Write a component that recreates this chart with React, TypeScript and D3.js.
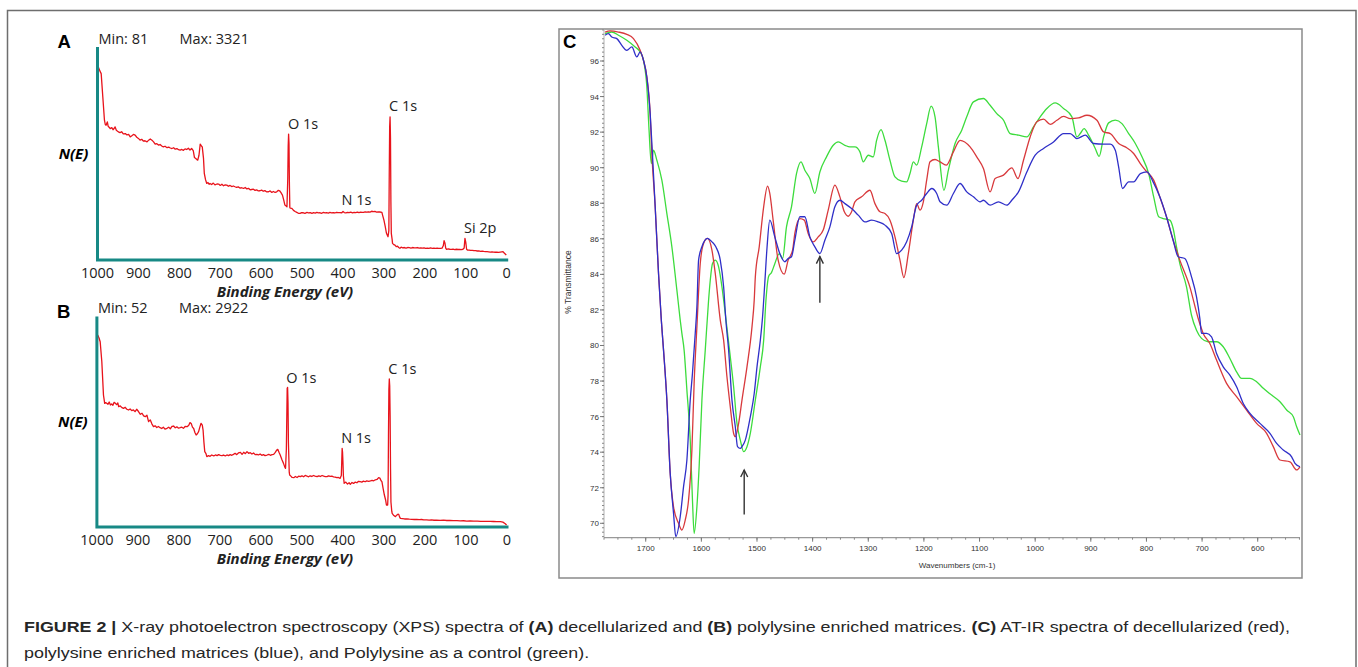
import React, { useEffect, useRef } from 'react';
import * as d3 from 'd3';

const W = 1358;
const H = 667;

// XPS survey, decellularized matrix: [binding energy (eV), counts]
const xpsA: [number, number][] = [
  [998, 3321], [994, 3250], [991, 3207], [987, 2805], [983, 2404], [981, 2330], [979, 2318], [976, 2375], [974, 2300],
  [971, 2280], [969, 2260], [965, 2275], [962, 2240], [959, 2265], [957, 2289], [954, 2230], [951, 2215], [949, 2203],
  [945, 2190], [941, 2205], [937, 2170], [932, 2174], [928, 2150], [924, 2160], [920, 2117], [916, 2135], [912, 2160],
  [908, 2146], [904, 2110], [900, 2090], [896, 2060], [892, 2075], [888, 2045], [884, 2050], [879, 2031], [875, 2060],
  [871, 2080], [867, 2060], [863, 2030], [859, 1991], [855, 2000], [851, 1975], [847, 1985], [843, 1960], [839, 1945],
  [835, 1955], [830, 1930], [826, 1940], [822, 1925], [818, 1916], [814, 1930], [810, 1905], [806, 1915], [802, 1895],
  [798, 1888], [794, 1900], [790, 1885], [786, 1910], [782, 1899], [778, 1920], [774, 1890], [770, 1916], [766, 1880],
  [763, 1760], [760, 1744], [757, 1725], [755, 1715], [752, 1800], [749, 1991], [746, 1960], [744, 1945], [741, 1750],
  [739, 1486], [736, 1380], [733, 1314], [730, 1330], [727, 1300], [725, 1314], [721, 1295], [717, 1320], [713, 1290],
  [708, 1305], [704, 1303], [700, 1280], [696, 1300], [692, 1275], [688, 1290], [684, 1285], [680, 1265], [676, 1280],
  [672, 1260], [668, 1270], [664, 1257], [660, 1245], [656, 1255], [652, 1235], [648, 1240], [643, 1228], [639, 1245],
  [635, 1220], [631, 1230], [627, 1205], [623, 1210], [619, 1215], [615, 1195], [611, 1205], [607, 1185], [603, 1188],
  [599, 1200], [595, 1180], [591, 1190], [587, 1170], [582, 1171], [578, 1185], [574, 1160], [570, 1175], [566, 1159],
  [562, 1170], [558, 1195], [555, 1188], [552, 1160], [548, 1113], [545, 1030], [542, 941], [539, 925], [537, 913],
  [535, 1400], [534, 1950], [533, 2165], [532, 2000], [531, 1300], [530, 900], [529, 890], [525, 884], [521, 850],
  [517, 830], [513, 815], [509, 800], [505, 798], [501, 812], [497, 809], [493, 800], [488, 815], [484, 805], [480, 812],
  [476, 800], [472, 810], [468, 803], [464, 815], [460, 806], [456, 809], [452, 800], [448, 815], [444, 808], [440, 810],
  [436, 803], [432, 815], [428, 808], [424, 812], [420, 805], [416, 815], [412, 810], [408, 812], [403, 809], [400, 830],
  [397, 812], [393, 806], [389, 815], [385, 810], [381, 818], [377, 808], [373, 815], [369, 812], [365, 820], [361, 810],
  [357, 818], [353, 815], [350, 815], [346, 825], [342, 818], [338, 826], [334, 820], [330, 835], [326, 828], [322, 832],
  [318, 820], [314, 825], [310, 822], [305, 815], [303, 760], [300, 683], [297, 580], [294, 460], [292, 425], [290, 396],
  [288, 500], [287, 1500], [286, 2300], [285, 2461], [284, 2100], [283, 1000], [282, 454], [280, 350], [279, 282],
  [276, 260], [273, 250], [270, 224], [267, 235], [264, 210], [261, 196], [258, 215], [254, 205], [250, 210], [246, 200],
  [242, 210], [238, 207], [234, 200], [230, 210], [226, 205], [222, 203], [218, 210], [214, 200], [210, 205], [206, 198],
  [202, 205], [198, 196], [194, 200], [190, 195], [186, 203], [182, 196], [178, 200], [174, 195], [170, 198], [166, 196],
  [162, 196], [158, 200], [155, 240], [153, 328], [151, 290], [149, 200], [147, 178], [143, 185], [139, 180], [135, 178],
  [131, 182], [127, 175], [123, 180], [119, 176], [115, 178], [111, 175], [107, 180], [104, 200], [102, 368], [100, 300],
  [98, 180], [96, 167], [92, 165], [88, 160], [84, 162], [80, 156], [76, 155], [72, 150], [68, 152], [64, 145], [60, 148],
  [56, 142], [52, 140], [48, 138], [44, 136], [40, 132], [36, 134], [32, 130], [28, 128], [24, 130], [20, 127], [16, 132],
  [12, 136], [9, 138], [6, 115], [3, 95], [1, 81],
];

// XPS survey, polylysine enriched matrix
const xpsB: [number, number][] = [
  [998, 2922], [995, 2880], [992, 2821], [988, 2519], [984, 2016], [981, 1890], [978, 1900], [976, 1890], [973, 1875],
  [970, 1910], [967, 1865], [964, 1880], [961, 1860], [958, 1905], [955, 1890], [952, 1870], [949, 1895], [947, 1839],
  [943, 1850], [939, 1825], [935, 1814], [931, 1830], [927, 1800], [923, 1789], [919, 1805], [915, 1780], [911, 1790],
  [907, 1764], [903, 1800], [899, 1770], [894, 1724], [890, 1740], [886, 1700], [882, 1688], [878, 1710], [874, 1613],
  [870, 1640], [866, 1580], [862, 1537], [858, 1550], [854, 1525], [850, 1540], [846, 1522], [842, 1510], [838, 1530],
  [834, 1500], [829, 1512], [825, 1530], [821, 1505], [817, 1540], [813, 1547], [809, 1520], [805, 1535], [801, 1515],
  [797, 1522], [793, 1530], [789, 1512], [785, 1540], [780, 1537], [776, 1560], [773, 1598], [770, 1585], [767, 1530],
  [764, 1510], [761, 1450], [758, 1411], [755, 1430], [752, 1462], [749, 1530], [746, 1588], [743, 1560], [741, 1480],
  [739, 1300], [737, 1160], [734, 1130], [732, 1084], [728, 1100], [724, 1090], [720, 1109], [715, 1095], [711, 1110],
  [707, 1100], [703, 1115], [699, 1105], [695, 1100], [691, 1109], [687, 1095], [683, 1110], [679, 1100], [675, 1115],
  [671, 1105], [667, 1119], [663, 1135], [659, 1115], [655, 1140], [650, 1150], [646, 1120], [642, 1150], [638, 1130],
  [634, 1160], [630, 1135], [626, 1145], [622, 1125], [618, 1140], [614, 1115], [610, 1119], [606, 1110], [602, 1125],
  [598, 1105], [594, 1115], [590, 1100], [585, 1109], [581, 1120], [577, 1105], [573, 1115], [569, 1119], [565, 1150],
  [562, 1180], [559, 1195], [556, 1150], [553, 1109], [549, 1040], [545, 983], [542, 930], [540, 908], [538, 1200],
  [536, 2116], [535, 2130], [534, 1900], [533, 1300], [531, 850], [530, 807], [527, 790], [524, 770], [520, 767],
  [516, 785], [512, 770], [508, 790], [504, 782], [500, 795], [496, 780], [492, 800], [488, 792], [484, 780], [480, 795],
  [476, 785], [472, 800], [468, 790], [463, 782], [459, 795], [455, 785], [451, 800], [447, 790], [443, 782], [439, 782],
  [435, 795], [431, 785], [427, 790], [423, 780], [419, 775], [415, 767], [411, 770], [407, 757], [404, 800], [403, 1000],
  [402, 1210], [401, 1150], [400, 1000], [399, 800], [397, 681], [393, 700], [389, 670], [385, 690], [382, 666],
  [378, 695], [374, 680], [370, 700], [366, 690], [362, 712], [358, 707], [354, 700], [350, 715], [346, 705], [342, 718],
  [337, 710], [333, 717], [329, 725], [325, 720], [321, 735], [317, 740], [313, 767], [310, 760], [307, 720], [305, 707],
  [302, 600], [299, 505], [296, 430], [294, 354], [291, 354], [290, 500], [289, 1400], [288, 2100], [287, 2257],
  [286, 2150], [285, 1700], [284, 900], [283, 400], [281, 260], [280, 228], [276, 195], [272, 178], [269, 200], [266, 215],
  [264, 213], [262, 175], [260, 153], [255, 148], [250, 143], [244, 143], [238, 140], [232, 138], [226, 135], [220, 137],
  [214, 132], [208, 135], [203, 128], [196, 130], [190, 125], [184, 128], [178, 124], [172, 126], [163, 122], [155, 125],
  [147, 120], [139, 122], [131, 117], [122, 117], [114, 115], [106, 116], [98, 112], [90, 114], [81, 112], [72, 110],
  [64, 108], [55, 107], [47, 107], [41, 107], [33, 105], [25, 103], [16, 102], [10, 95], [5, 75], [1, 52],
];

const xpsTicks = [1000, 900, 800, 700, 600, 500, 400, 300, 200, 100, 0];

// peak labels: [text, energy, counts where the label sits]
const peaksA: [string, number, number][] = [['O 1s', 532, 2165], ['C 1s', 285, 2476], ['N 1s', 401, 856], ['Si 2p', 102, 368]];
const peaksB: [string, number, number][] = [['O 1s', 536, 2116], ['C 1s', 287, 2257], ['N 1s', 402, 1210]];

// AT-IR spectra: [wavenumber (cm-1), % transmittance]
const irRed: [number, number][] = [
  [1773, 97.63], [1764, 97.69], [1749, 97.63], [1734, 97.5], [1722, 97.26], [1710, 96.6], [1704, 96.04], [1698, 95.1],
  [1692, 93.04], [1689, 90.8], [1683, 87.8], [1677, 84.05], [1672, 81.43], [1668, 79.74], [1662, 76.93], [1656, 72.81],
  [1650, 70.93], [1641, 70.0], [1635, 69.62], [1629, 70.18], [1623, 71.31], [1617, 74.12], [1613, 77.87], [1608, 81.05],
  [1602, 84.61], [1596, 85.74], [1589, 86.02], [1581, 85.36], [1575, 84.05], [1566, 81.43], [1560, 80.3], [1554, 78.24],
  [1548, 76.55], [1542, 75.05], [1539, 74.87], [1533, 75.62], [1527, 76.93], [1518, 78.8], [1509, 81.05], [1505, 82.55],
  [1503, 83.86], [1496, 85.55], [1488, 87.8], [1481, 88.96], [1477, 88.55], [1471, 87.05], [1462, 84.8], [1451, 84.01],
  [1444, 84.8], [1436, 85.36], [1432, 86.3], [1423, 87.14], [1415, 87.05], [1408, 86.3], [1399, 85.83], [1390, 86.11],
  [1381, 86.49], [1372, 87.61], [1360, 89.02], [1351, 88.36], [1343, 87.52], [1336, 87.27], [1330, 87.52], [1324, 88.08],
  [1312, 88.36], [1297, 88.73], [1288, 87.98], [1279, 87.52], [1270, 87.42], [1261, 87.05], [1252, 86.11], [1243, 84.8],
  [1236, 83.82], [1228, 85.17], [1219, 87.05], [1213, 87.98], [1207, 87.61], [1201, 88.08], [1195, 89.3], [1189, 90.33],
  [1180, 90.46], [1171, 90.33], [1160, 90.14], [1147, 90.89], [1135, 91.54], [1117, 91.17], [1105, 90.61], [1093, 89.95],
  [1081, 88.64], [1072, 89.39], [1057, 89.58], [1042, 89.99], [1031, 89.39], [1021, 90.42], [1009, 91.73], [997, 92.58],
  [985, 92.73], [973, 92.44], [961, 92.67], [949, 92.89], [937, 92.76], [922, 92.8], [907, 92.95], [889, 92.67],
  [877, 92.01], [865, 91.92], [850, 91.36], [838, 91.17], [823, 90.8], [811, 90.23], [802, 89.86], [787, 89.3],
  [776, 88.36], [764, 87.24], [752, 85.92], [740, 84.8], [722, 83.3], [707, 81.52], [698, 80.68], [686, 80.11],
  [674, 79.18], [656, 77.87], [638, 77.12], [620, 76.37], [602, 75.62], [584, 75.06], [572, 74.31], [560, 73.56],
  [542, 73.46], [530, 73.0], [524, 73.18],
];

const irBlue: [number, number][] = [
  [1773, 97.45], [1767, 97.54], [1761, 97.35], [1752, 97.26], [1743, 96.88], [1734, 96.6], [1725, 96.79], [1716, 96.23],
  [1710, 96.51], [1704, 96.04], [1698, 95.1], [1692, 93.04], [1688, 90.8], [1683, 87.8], [1677, 84.05], [1672, 81.43],
  [1668, 79.74], [1662, 76.93], [1656, 72.81], [1650, 70.56], [1646, 69.25], [1638, 70.37], [1632, 72.06], [1626, 73.56],
  [1620, 76.93], [1616, 78.43], [1611, 80.68], [1608, 82.18], [1605, 84.8], [1599, 85.55], [1589, 86.02], [1581, 85.83],
  [1574, 85.55], [1566, 84.8], [1560, 83.3], [1556, 81.43], [1551, 79.74], [1545, 76.93], [1539, 75.43], [1535, 74.31],
  [1530, 74.21], [1527, 74.31], [1521, 74.68], [1512, 75.99], [1505, 77.3], [1500, 78.8], [1494, 80.3], [1490, 81.61],
  [1486, 83.5], [1482, 85.5], [1477, 87.05], [1468, 86.11], [1459, 85.17], [1450, 84.71], [1444, 84.89], [1438, 84.99],
  [1432, 85.92], [1423, 87.24], [1414, 87.24], [1405, 86.11], [1396, 85.55], [1387, 85.17], [1378, 85.92], [1369, 86.67],
  [1360, 87.8], [1351, 88.17], [1342, 87.98], [1330, 87.7], [1318, 87.33], [1306, 86.95], [1294, 87.05], [1282, 86.95],
  [1270, 86.77], [1258, 86.3], [1249, 85.17], [1240, 85.36], [1231, 85.83], [1222, 86.67], [1213, 87.89], [1204, 88.17],
  [1195, 88.55], [1186, 88.83], [1177, 88.55], [1171, 88.08], [1159, 87.89], [1147, 88.55], [1135, 89.11], [1123, 88.64],
  [1111, 88.36], [1099, 88.08], [1093, 88.17], [1081, 87.89], [1066, 88.08], [1051, 87.89], [1042, 88.17], [1030, 88.64],
  [1015, 89.76], [1000, 90.7], [985, 91.08], [967, 91.45], [949, 91.92], [937, 91.92], [925, 91.64], [910, 91.83],
  [895, 91.36], [877, 91.32], [865, 91.32], [856, 90.98], [850, 90.05], [843, 88.83], [832, 89.2], [823, 89.2],
  [811, 89.67], [799, 89.76], [788, 89.2], [776, 88.36], [764, 87.24], [752, 85.92], [743, 84.99], [731, 84.89],
  [719, 83.86], [710, 82.74], [704, 81.52], [701, 80.68], [692, 80.68], [683, 80.49], [674, 79.55], [662, 78.8],
  [650, 78.33], [638, 77.68], [626, 76.74], [614, 76.18], [596, 75.62], [578, 75.06], [566, 74.49], [554, 74.12],
  [539, 73.74], [533, 73.37], [524, 73.18],
];

const irGreen: [number, number][] = [
  [1773, 97.54], [1761, 97.63], [1749, 97.45], [1734, 97.17], [1719, 96.79], [1710, 96.51], [1704, 96.04], [1698, 94.54],
  [1694, 92.11], [1690, 90.23], [1686, 90.98], [1680, 90.42], [1671, 89.3], [1662, 87.42], [1653, 85.55], [1644, 83.11],
  [1638, 81.43], [1635, 80.68], [1631, 79.74], [1626, 77.49], [1620, 74.68], [1616, 71.31], [1613, 69.43], [1608, 70.93],
  [1604, 73.18], [1599, 76.93], [1593, 79.74], [1587, 82.55], [1584, 83.67], [1580, 84.61], [1575, 84.8], [1569, 84.42],
  [1563, 83.3], [1557, 81.8], [1548, 79.36], [1542, 77.68], [1536, 75.62], [1530, 74.68], [1524, 74.03], [1518, 74.31],
  [1512, 75.06], [1503, 76.93], [1494, 78.8], [1488, 80.3], [1484, 82.5], [1479, 83.9], [1474, 84.1], [1468, 84.6],
  [1460, 85.17], [1454, 84.89], [1447, 86.67], [1438, 87.8], [1429, 89.67], [1421, 90.33], [1414, 89.86], [1405, 89.39],
  [1396, 88.55], [1387, 89.76], [1375, 90.61], [1363, 91.26], [1354, 91.45], [1342, 91.26], [1333, 91.17], [1324, 91.17],
  [1315, 90.89], [1309, 90.33], [1300, 90.7], [1291, 90.61], [1285, 91.54], [1277, 92.14], [1270, 91.54], [1261, 90.42],
  [1252, 89.48], [1240, 89.24], [1231, 89.2], [1225, 89.67], [1219, 90.33], [1213, 90.14], [1204, 91.17], [1195, 92.48],
  [1187, 93.46], [1180, 92.86], [1174, 91.17], [1164, 88.73], [1156, 89.86], [1144, 91.36], [1132, 92.11], [1123, 92.86],
  [1111, 93.7], [1093, 93.89], [1081, 93.51], [1069, 93.04], [1057, 92.67], [1045, 91.92], [1030, 91.83], [1015, 91.73],
  [1003, 92.29], [991, 92.86], [979, 93.33], [964, 93.64], [949, 93.33], [934, 92.86], [925, 91.73], [919, 91.92],
  [912, 92.2], [904, 91.83], [892, 91.08], [885, 90.64], [877, 91.73], [868, 92.52], [856, 92.67], [844, 92.48],
  [832, 91.92], [820, 91.36], [808, 90.61], [796, 89.67], [787, 88.36], [778, 87.24], [770, 87.14], [758, 87.05],
  [752, 86.58], [746, 85.55], [740, 84.61], [728, 83.3], [719, 81.7], [710, 80.86], [701, 80.4], [689, 80.21],
  [674, 80.21], [662, 79.93], [650, 79.27], [638, 78.52], [629, 78.15], [614, 78.15], [602, 77.96], [590, 77.59],
  [575, 77.21], [560, 76.84], [548, 76.37], [536, 75.99], [530, 75.43], [524, 74.96],
];

const irXTicks = [1700, 1600, 1500, 1400, 1300, 1200, 1100, 1000, 900, 800, 700, 600];
const irYTicks = [70, 72, 74, 76, 78, 80, 82, 84, 86, 88, 90, 92, 94, 96];

// arrows: [wavenumber, tail %T, head %T]
const irArrows: [number, number, number][] = [[1387, 82.4, 85.0], [1523, 70.5, 73.0]];

const captionLine1: [string, boolean][] = [
  ['FIGURE 2 | ', true],
  ['X-ray photoelectron spectroscopy (XPS) spectra of ', false],
  ['(A)', true],
  [' decellularized and ', false],
  ['(B)', true],
  [' polylysine enriched matrices. ', false],
  ['(C)', true],
  [' AT-IR spectra of decellularized (red),', false],
];
const captionLine2: [string, boolean][] = [['polylysine enriched matrices (blue), and Polylysine as a control (green).', false]];

const XPS_FONT = '"Open Sans", "Noto Sans", sans-serif';
const SANS = '"Liberation Sans", Arial, sans-serif';

function drawXps(svg: any, cfg: any) {
  const { data, peaks, letter, min, max, left, right, top, axisY, yTop, yBottom } = cfg;
  const x = d3.scaleLinear().domain([1000, 0]).range([left, right]);
  const y = d3.scaleLinear().domain([min, max]).range([yBottom, yTop]);
  const g = svg.append('g');

  g.append('text').attr('x', left - 40).attr('y', top + 1).attr('font-family', SANS).attr('font-weight', 'bold')
    .attr('font-size', 18.5).text(letter);
  g.append('text').attr('x', left + 1).attr('y', top - 3.5).attr('font-family', XPS_FONT).attr('font-size', 14.5)
    .attr('fill', '#222').text('Min: ' + min);
  g.append('text').attr('x', left + 82).attr('y', top - 3.5).attr('font-family', XPS_FONT).attr('font-size', 14.5)
    .attr('fill', '#222').text('Max: ' + max);

  g.append('text').attr('x', left - 24).attr('y', (top + axisY) / 2 + 5).attr('text-anchor', 'middle')
    .attr('font-family', XPS_FONT).attr('font-weight', 'bold').attr('font-style', 'italic').attr('font-size', 15)
    .text('N(E)');

  // spectrum
  g.append('path').datum(data).attr('fill', 'none').attr('stroke', '#e8131b').attr('stroke-width', 1.3)
    .attr('stroke-linejoin', 'round')
    .attr('d', d3.line<[number, number]>().x(d => x(d[0])).y(d => y(d[1])));

  // teal L axis
  g.append('path').attr('fill', 'none').attr('stroke', '#178985').attr('stroke-width', 3)
    .attr('d', `M${left},${top} V${axisY} H${right + 1.5}`);

  g.selectAll('.tick').data(xpsTicks).enter().append('text')
    .attr('x', d => x(d)).attr('y', axisY + 17.5).attr('text-anchor', 'middle')
    .attr('font-family', XPS_FONT).attr('font-size', 14.5).attr('fill', '#222').text(d => d);

  g.append('text').attr('x', 285).attr('y', axisY + 37).attr('text-anchor', 'middle')
    .attr('font-family', XPS_FONT).attr('font-weight', 'bold').attr('font-style', 'italic').attr('font-size', 15)
    .attr('fill', '#222').text('Binding Energy (eV)');

  g.selectAll('.peak').data(peaks).enter().append('text')
    .attr('x', d => x(d[1]) - 1).attr('y', d => y(d[2]) - 5)
    .attr('font-family', XPS_FONT).attr('font-size', 14.5).attr('fill', '#222').text(d => d[0]);
}

function drawIr(svg: any) {
  const left = 604, right = 1300, top = 29, bottom = 537.7;
  const x = d3.scaleLinear().domain([1775, 524]).range([left, right]);
  const y = d3.scaleLinear().domain([69.19, 97.8]).range([bottom, top]);
  const g = svg.append('g');

  g.append('rect').attr('x', 559).attr('y', 29).attr('width', 743).attr('height', 549)
    .attr('fill', 'none').attr('stroke', '#8a8a8a').attr('stroke-width', 1.5);

  g.append('text').attr('x', 563).attr('y', 48).attr('font-family', SANS).attr('font-weight', 'bold')
    .attr('font-size', 18.5).text('C');

  // y axis with dotted minor ticks
  g.append('line').attr('x1', left).attr('x2', left).attr('y1', top).attr('y2', bottom)
    .attr('stroke', '#b0b0b0').attr('stroke-width', 1);
  const yMinor = d3.range(69.25, 97.8, 0.25);
  g.selectAll('.ym').data(yMinor).enter().append('line')
    .attr('x1', left - 2).attr('x2', left).attr('y1', d => y(d)).attr('y2', d => y(d))
    .attr('stroke', '#888').attr('stroke-width', 1);
  g.selectAll('.yt').data(irYTicks).enter().append('line')
    .attr('x1', left - 4).attr('x2', left).attr('y1', d => y(d)).attr('y2', d => y(d))
    .attr('stroke', '#777').attr('stroke-width', 1);
  g.selectAll('.yl').data(irYTicks).enter().append('text')
    .attr('x', left - 5).attr('y', d => y(d) + 3).attr('text-anchor', 'end')
    .attr('font-family', SANS).attr('font-size', 8).attr('fill', '#333').text(d => d);

  // x axis
  g.append('line').attr('x1', left).attr('x2', right).attr('y1', bottom).attr('y2', bottom)
    .attr('stroke', '#999').attr('stroke-width', 1.2);
  const xMinor = d3.range(1775, 524, -25);
  g.selectAll('.xm').data(xMinor).enter().append('line')
    .attr('x1', d => x(d)).attr('x2', d => x(d)).attr('y1', bottom).attr('y2', bottom + 2)
    .attr('stroke', '#888').attr('stroke-width', 1);
  g.selectAll('.xt').data(irXTicks).enter().append('line')
    .attr('x1', d => x(d)).attr('x2', d => x(d)).attr('y1', bottom).attr('y2', bottom + 4)
    .attr('stroke', '#777').attr('stroke-width', 1);
  g.selectAll('.xl').data(irXTicks).enter().append('text')
    .attr('x', d => x(d)).attr('y', bottom + 13.5).attr('text-anchor', 'middle')
    .attr('font-family', SANS).attr('font-size', 8).attr('fill', '#333').text(d => d);

  g.append('text').attr('x', 957).attr('y', 568).attr('text-anchor', 'middle')
    .attr('font-family', SANS).attr('font-size', 8).attr('fill', '#333').text('Wavenumbers (cm-1)');
  g.append('text').attr('transform', 'translate(570.5,282) rotate(-90)').attr('text-anchor', 'middle')
    .attr('font-family', SANS).attr('font-size', 8.5).attr('fill', '#333').text('% Transmittance');

  const line = d3.line<[number, number]>().x(d => x(d[0])).y(d => y(d[1])).curve(d3.curveMonotoneX);
  const series: [[number, number][], string][] = [[irGreen, '#3ddc3d'], [irRed, '#d8393c'], [irBlue, '#2f2fc8']];
  series.forEach(([data, color]) => {
    g.append('path').datum(data).attr('fill', 'none').attr('stroke', color).attr('stroke-width', 1.3)
      .attr('d', line);
  });

  irArrows.forEach(([w, from, to]) => {
    const ax = x(w), ay = y(to);
    g.append('line').attr('x1', ax).attr('x2', ax).attr('y1', y(from)).attr('y2', ay)
      .attr('stroke', '#333').attr('stroke-width', 1.4);
    g.append('path').attr('d', `M${ax - 3.5},${ay + 7} L${ax},${ay} L${ax + 3.5},${ay + 7}`)
      .attr('fill', 'none').attr('stroke', '#333').attr('stroke-width', 1.4);
  });
}

export default function App() {
  const ref = useRef<SVGSVGElement>(null);

  useEffect(() => {
    const svg = d3.select(ref.current);
    svg.selectAll('*').remove();

    // figure frame (open at the bottom of the window)
    svg.append('path').attr('d', 'M7.5,700 V10.5 H1356 V700').attr('fill', 'none')
      .attr('stroke', '#6e6e6e').attr('stroke-width', 1.5);

    drawXps(svg, { data: xpsA, peaks: peaksA, letter: 'A', min: 81, max: 3321, left: 97.5, right: 506.7,
      top: 47, axisY: 260, yTop: 67, yBottom: 255 });
    drawXps(svg, { data: xpsB, peaks: peaksB, letter: 'B', min: 52, max: 2922, left: 96.9, right: 507,
      top: 316.5, axisY: 527, yTop: 335, yBottom: 525 });
    drawIr(svg);

    // caption
    const lines: [[string, boolean][], number, number][] = [[captionLine1, 632, 1266], [captionLine2, 658, 0]];
    let ratio = 1;
    lines.forEach(([parts, yy, len]) => {
      const t = svg.append('text').attr('x', 24).attr('y', yy).attr('font-family', SANS).attr('font-size', 15.5)
        .attr('fill', '#262626').style('white-space', 'pre');
      parts.forEach(([s, b]) => {
        t.append('tspan').attr('font-weight', b ? 'bold' : 'normal').text(s);
      });
      const natural = (t.node() as SVGTextElement).getComputedTextLength();
      if (len) ratio = len / natural;
      t.attr('textLength', natural * ratio).attr('lengthAdjust', 'spacingAndGlyphs');
    });
  }, []);

  return (
    <svg ref={ref} width={W} height={H} style={{ position: 'absolute', left: 0, top: 0, background: '#fff' }} />
  );
}
